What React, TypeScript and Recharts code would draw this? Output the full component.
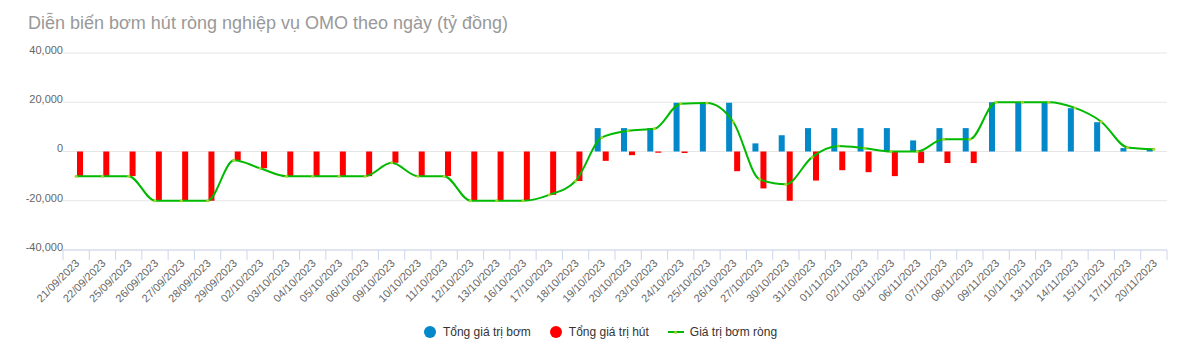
import React from 'react';
import { ComposedChart, Bar, Line, XAxis, YAxis, CartesianGrid } from 'recharts';

// Ngày giao dịch
const ngay = [
  '21/09/2023', '22/09/2023', '25/09/2023', '26/09/2023', '27/09/2023', '28/09/2023', '29/09/2023',
  '02/10/2023', '03/10/2023', '04/10/2023', '05/10/2023', '06/10/2023', '09/10/2023', '10/10/2023',
  '11/10/2023', '12/10/2023', '13/10/2023', '16/10/2023', '17/10/2023', '18/10/2023', '19/10/2023',
  '20/10/2023', '23/10/2023', '24/10/2023', '25/10/2023', '26/10/2023', '27/10/2023', '30/10/2023',
  '31/10/2023', '01/11/2023', '02/11/2023', '03/11/2023', '06/11/2023', '07/11/2023', '08/11/2023',
  '09/11/2023', '10/11/2023', '13/11/2023', '14/11/2023', '15/11/2023', '17/11/2023', '20/11/2023',
];

// Tổng giá trị bơm (tỷ đồng)
const tongBom = [
  null, null, null, null, null, null, null,
  null, null, null, null, null, null, null,
  null, null, null, null, null, null, 9500,
  9500, 9500, 19800, 19800, 19800, 3300, 6600,
  9500, 9500, 9500, 9500, 4500, 9500, 9500,
  20000, 20000, 20000, 17600, 11900, 1400, 800,
];

// Tổng giá trị hút (tỷ đồng)
const tongHut = [
  -10000, -10000, -10000, -20000, -20000, -20000, -3600,
  -6800, -10000, -10000, -10000, -10000, -4600, -10000,
  -10000, -20000, -20000, -20000, -17600, -12000, -3800,
  -1500, -500, -600, null, -8000, -15000, -20000,
  -11800, -7600, -8400, -10000, -4700, -4700, -4700,
  null, null, null, null, null, null, null,
];

// Giá trị bơm ròng (tỷ đồng)
const bomRong = [
  -10000, -10000, -10000, -20000, -20000, -20000, -3600,
  -6800, -10000, -10000, -10000, -10000, -4600, -10000,
  -10000, -20000, -20000, -20000, -17600, -12000, 5700,
  8400, 9200, 19400, 19700, 12000, -11300, -13300,
  -2300, 2200, 1300, 0, 0, 5000, 5000,
  20000, 20000, 20000, 17700, 12100, 1600, 900,
];

const mocTrucY = [-40000, -20000, 0, 20000, 40000];

const W = 1193;
const H = 356;
const LEFT = 63;
const RIGHT = 26;
const TOP = 53;
const PLOT_BOTTOM = 250;
const XAXIS_H = 60;
const FONT = '"Liberation Sans", Arial, Helvetica, sans-serif';

const duLieu = ngay.map((d, i) => ({
  ngay: d,
  bom: tongBom[i],
  hut: tongHut[i],
  rong: bomRong[i],
}));

const bandW = (W - LEFT - RIGHT) / ngay.length;

const TickNgay = (props: any) => {
  const { x, y, payload, index } = props;
  return (
    <g>
      <line x1={x - bandW / 2} y1={y} x2={x - bandW / 2} y2={y + 10} stroke="#ccd6eb" />
      {index === ngay.length - 1 && (
        <line x1={x + bandW / 2} y1={y} x2={x + bandW / 2} y2={y + 10} stroke="#ccd6eb" />
      )}
      <text
        x={x + 4}
        y={y + 14}
        textAnchor="end"
        transform={`rotate(-45 ${x + 4} ${y + 14})`}
        fontSize={11}
        fill="#666"
        fontFamily={FONT}
      >
        {payload.value}
      </text>
    </g>
  );
};

const chuThich = [
  { ten: 'Tổng giá trị bơm', mau: '#0388ca', kieu: 'tron' },
  { ten: 'Tổng giá trị hút', mau: '#ff0000', kieu: 'tron' },
  { ten: 'Giá trị bơm ròng', mau: '#00b900', kieu: 'duong' },
];

export default function App() {
  return (
    <div style={{ position: 'relative', width: W, height: H, background: '#fff', fontFamily: FONT }}>
      <style>{'body{margin:0}'}</style>

      {/* Tiêu đề */}
      <div
        style={{
          position: 'absolute',
          left: 28,
          top: 13,
          fontSize: 18,
          color: '#999',
          whiteSpace: 'nowrap',
        }}
      >
        Diễn biến bơm hút ròng nghiệp vụ OMO theo ngày (tỷ đồng)
      </div>

      <ComposedChart
        width={W}
        height={H}
        data={duLieu}
        margin={{ top: TOP, right: RIGHT, bottom: H - PLOT_BOTTOM - XAXIS_H, left: 0 }}
        barSize={6}
        barGap={2}
      >
        <CartesianGrid horizontal vertical={false} stroke="#e6e6e6" />
        <XAxis
          dataKey="ngay"
          interval={0}
          height={XAXIS_H}
          tickLine={false}
          tickSize={0}
          tickMargin={0}
          axisLine={{ stroke: '#ccd6eb' }}
          tick={<TickNgay />}
        />
        <YAxis
          width={LEFT}
          domain={[-40000, 40000]}
          ticks={mocTrucY}
          axisLine={false}
          tickLine={false}
          tickSize={0}
          tickMargin={0}
          tick={{ fontSize: 11, fill: '#666', fontFamily: FONT, dy: -3 }}
          tickFormatter={(v: number) => v.toLocaleString('en-US')}
        />
        <Bar dataKey="bom" fill="#0388ca" isAnimationActive={false} />
        <Bar dataKey="hut" fill="#ff0000" isAnimationActive={false} />
        <Line
          dataKey="rong"
          type="monotone"
          stroke="#00b900"
          strokeWidth={2}
          dot={{ r: 1.5, fill: '#a8d42c', stroke: 'none' }}
          activeDot={false}
          isAnimationActive={false}
        />
      </ComposedChart>

      {/* Chú thích */}
      <div
        style={{
          position: 'absolute',
          left: 4,
          top: 323,
          width: W,
          display: 'flex',
          justifyContent: 'center',
          gap: 19,
          fontSize: 12,
          color: '#333',
        }}
      >
        {chuThich.map((item, index) => (
          <div key={index} style={{ display: 'flex', alignItems: 'center', gap: item.kieu === 'tron' ? 7 : 6, height: 18 }}>
            {item.kieu === 'tron' ? (
              <div style={{ width: 12, height: 12, borderRadius: '50%', background: item.mau }} />
            ) : (
              <div style={{ width: 16, height: 2, background: item.mau, position: 'relative' }}>
                <div style={{ position: 'absolute', left: 6.5, top: -0.5, width: 3, height: 3, borderRadius: '50%', background: '#a8d42c' }} />
              </div>
            )}
            <span>{item.ten}</span>
          </div>
        ))}
      </div>
    </div>
  );
}
